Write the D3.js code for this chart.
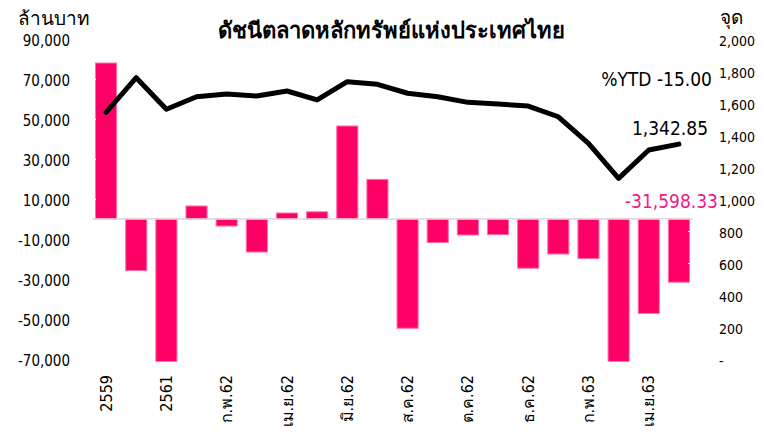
<!DOCTYPE html>
<meta charset="utf-8">
<style>
body { margin: 0; background: #fff; }
svg text { font-family: "DejaVu Sans Condensed", "DejaVu Sans", "Noto Sans", sans-serif; fill: #000; }
.bar { fill: #ff0066; stroke: #ff70a8; stroke-width: 1; }
.axis text { font-size: 15px; }
.axis.right text { font-size: 14px; }
.axis path, .axis line { stroke: #fff; }
.xlab { font-size: 16px; }
</style>
<body>
<script src="https://d3js.org/d3.v7.min.js"></script>
<script>

var categories = ["2559", "2560", "2561", "ม.ค.62", "ก.พ.62", "มี.ค.62", "เม.ย.62", "พ.ค.62", "มิ.ย.62", "ก.ค.62",
  "ส.ค.62", "ก.ย.62", "ต.ค.62", "พ.ย.62", "ธ.ค.62", "ม.ค.63", "ก.พ.63", "มี.ค.63", "เม.ย.63", "พ.ค.63"];
// foreign net buy/sell, million baht (left axis)
var netFlow = [78000, -25800, -71500, 6500, -3500, -16500, 3000, 3600, 46500, 19800,
  -54600, -11800, -8000, -7800, -24600, -17500, -19800, -71500, -47200, -31598.33];
// SET index, points (right axis)
var setIndex = [1542, 1758, 1561, 1639, 1656, 1644, 1675, 1619, 1733, 1717,
  1661, 1639, 1604, 1594, 1581, 1514, 1348, 1129, 1306, 1342.85];
var leftTicks = [90000, 70000, 50000, 30000, 10000, -10000, -30000, -50000, -70000];
var leftTickLabels = ["90,000", "70,000", "50,000", "30,000", "10,000", "-10,000", "-30,000", "-50,000", "-70,000"];
var rightTicks = [2000, 1800, 1600, 1400, 1200, 1000, 800, 600, 400, 200, 0];
var rightTickLabels = ["2,000", "1,800", "1,600", "1,400", "1,200", "1,000", "800", "600", "400", "200", "-"];
var shownLabels = ["2559", "2561", "ก.พ.62", "เม.ย.62", "มิ.ย.62", "ส.ค.62", "ต.ค.62", "ธ.ค.62", "ก.พ.63", "เม.ย.63"];

var width = 769, height = 432;
var plot = {left: 91, right: 694, top: 39, bottom: 359};

var svg = d3.select("body").append("svg")
    .attr("width", width)
    .attr("height", height);

var x = d3.scaleBand()
    .domain(categories)
    .range([plot.left, plot.right])
    .paddingInner(0.3)
    .paddingOuter(0.15);

var yL = d3.scaleLinear().domain([-70000, 90000]).range([plot.bottom, plot.top]);
var yR = d3.scaleLinear().domain([0, 2000]).range([plot.bottom, plot.top]);

svg.append("clipPath").attr("id", "clip")
  .append("rect")
    .attr("x", plot.left).attr("y", 0)
    .attr("width", plot.right - plot.left).attr("height", plot.bottom + 2.5);

// bars
svg.append("g").attr("clip-path", "url(#clip)")
  .selectAll(".bar")
    .data(netFlow)
  .enter().append("rect")
    .attr("class", "bar")
    .attr("x", function(d, i) { return x(categories[i]); })
    .attr("width", x.bandwidth())
    .attr("y", function(d) { return yL(Math.max(0, d)); })
    .attr("height", function(d) { return Math.abs(yL(d) - yL(0)); });

// zero line
svg.append("line")
    .attr("x1", plot.left + 1).attr("x2", plot.right - 1)
    .attr("y1", yL(0)).attr("y2", yL(0))
    .attr("stroke", "#d9d9d9").attr("stroke-width", 1.5);

// axes
var leftAxis = d3.axisLeft(yL).tickValues(leftTicks).tickSize(4).tickSizeOuter(0)
    .tickFormat(function(d, i) { return leftTickLabels[i]; });
svg.append("g")
    .attr("class", "axis left")
    .attr("transform", "translate(" + (plot.left + 5) + ",0)")
    .call(leftAxis)
    .call(function(g) { g.selectAll("text").attr("x", -26).attr("dy", "0.45em"); });

var rightAxis = d3.axisRight(yR).tickValues(rightTicks).tickSize(4).tickSizeOuter(0)
    .tickFormat(function(d, i) { return rightTickLabels[i]; });
svg.append("g")
    .attr("class", "axis right")
    .attr("transform", "translate(" + (plot.right - 6) + ",0)")
    .call(rightAxis)
    .call(function(g) { g.selectAll("text").attr("x", 31).attr("dy", "0.45em"); });

svg.selectAll(".axis .domain").remove();

// index line
var line = d3.line()
    .x(function(d, i) { return x(categories[i]) + x.bandwidth() / 2; })
    .y(function(d) { return yR(d); });

svg.append("path")
    .datum(setIndex)
    .attr("fill", "none")
    .attr("stroke", "#000")
    .attr("stroke-width", 5)
    .attr("stroke-linejoin", "round")
    .attr("stroke-linecap", "round")
    .attr("d", line);

// x labels
svg.append("g").selectAll("text")
    .data(shownLabels)
  .enter().append("text")
    .attr("class", "xlab")
    .attr("text-anchor", "end")
    .attr("dy", "0.35em")
    .attr("transform", function(d) {
      return "translate(" + (x(d) + x.bandwidth() / 2) + ",375) rotate(-90)";
    })
    .text(function(d) { return d; });

// titles and annotations
svg.append("text").attr("x", 391).attr("y", 38).attr("text-anchor", "middle")
    .style("font-size", "22px").style("font-weight", "600").text("ดัชนีตลาดหลักทรัพย์แห่งประเทศไทย");
svg.append("text").attr("x", 18).attr("y", 25).style("font-size", "19px").text("ล้านบาท");
svg.append("text").attr("x", 720).attr("y", 24).style("font-size", "19px").text("จุด");

var last = categories.length - 1;
svg.append("text").attr("x", 712).attr("y", 86).attr("text-anchor", "end")
    .style("font-size", "19px").text("%YTD -15.00");
svg.append("text").attr("x", 708).attr("y", yR(setIndex[last]) - 9).attr("text-anchor", "end")
    .style("font-size", "19px").text(d3.format(",.2f")(setIndex[last]));
svg.append("text").attr("x", 718).attr("y", 208).attr("text-anchor", "end")
    .style("font-size", "19px").style("fill", "#ee1a88")
    .text("-" + d3.format(",.2f")(Math.abs(netFlow[last])));

</script>
</body>
